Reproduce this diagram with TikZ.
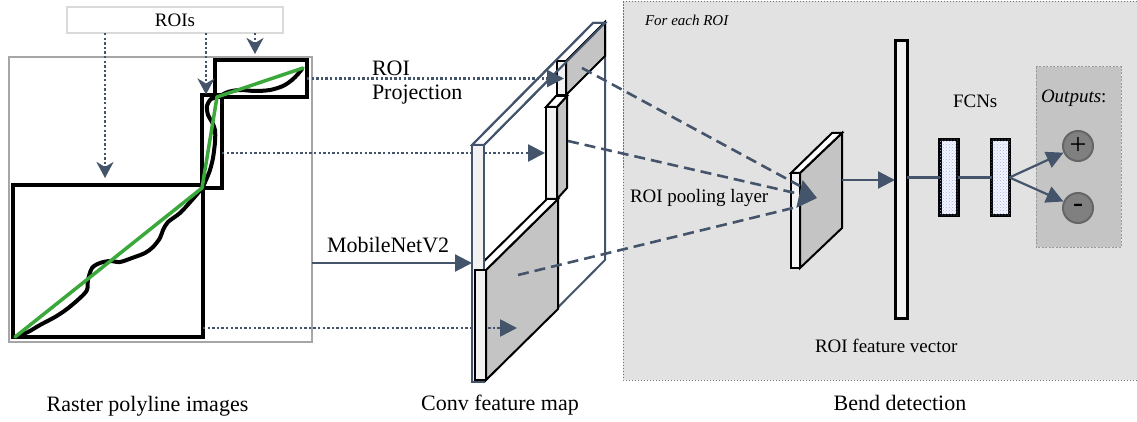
\documentclass[tikz,border=0pt]{standalone}
\usepackage{fontspec}
\setmainfont{Liberation Serif}
\usetikzlibrary{arrows.meta,patterns,calc}
\definecolor{slate}{HTML}{44546A}
\definecolor{lgreen}{RGB}{58,168,58}
\definecolor{facegray}{RGB}{196,196,196}
\definecolor{facewhite}{RGB}{242,242,242}
\definecolor{panelgray}{RGB}{226,226,226}
\definecolor{outgray}{RGB}{196,196,196}
\definecolor{circgray}{RGB}{128,128,128}
\definecolor{framegray}{RGB}{166,166,166}
\definecolor{roisgray}{RGB}{218,218,218}
\definecolor{fcnblue}{RGB}{160,180,225}
\begin{document}
\begin{tikzpicture}[x=1pt,y=-1pt]
\tikzset{
 box/.style={draw, rectangle, inner sep=0pt, outer sep=0pt},
 roi/.style={box, draw=black, line width=3.2pt},
 lbl/.style={inner sep=0pt, outer sep=0pt, font=\fontsize{22}{26}\selectfont},
 lblr/.style={inner sep=0pt, outer sep=0pt, font=\fontsize{19}{23}\selectfont},
 dotarrow/.style={draw=slate, line width=2.6pt, dash pattern=on 2.4pt off 2.2pt, -{Triangle[length=17pt,width=17pt]}},
 vdotarrow/.style={draw=slate, line width=2.6pt, dash pattern=on 2.4pt off 2.2pt, -{Stealth[length=16pt,width=17pt,inset=5pt]}},
 solidarrow/.style={draw=slate, line width=2.2pt, -{Triangle[length=17pt,width=17pt]}},
 link/.style={draw=slate, line width=2.2pt},
 dashline/.style={draw=slate, line width=2.6pt, dash pattern=on 11pt off 6pt},
 blk/.style={draw=black, line width=2pt, line join=miter},
 slb/.style={draw=slate, line width=2pt, line join=miter},
 fcn/.style={box, draw=black, line width=3.2pt, minimum width=18pt, minimum height=76pt, fill=blue!4, postaction={pattern=crosshatch dots, pattern color=fcnblue}},
 outc/.style={circle, draw=black!60, line width=2pt, fill=circgray, minimum size=30pt, inner sep=0pt, font=\fontsize{30}{30}\selectfont},
}
\useasboundingbox (0,0) rectangle (1137,422);

% ---------- right panel ----------
\draw[draw=black!55, line width=1pt, dash pattern=on 1.5pt off 1.5pt, fill=panelgray] (623,1.5) rectangle (1142,380);
\draw[draw=black!40, line width=1pt, dash pattern=on 2pt off 1.5pt, fill=outgray] (1036,67) rectangle (1121,247);
\node[lblr, anchor=base west, font=\fontsize{15}{18}\selectfont\itshape] (foreach) at (645,26) {For each ROI};

% ---------- left: raster images ----------
\node[box, draw=roisgray, line width=1.8pt, fill=white, minimum width=216pt, minimum height=26pt, font=\fontsize{19}{23}\selectfont] (rois) at (175,20) {ROIs};
\node[box, draw=framegray, line width=2pt, minimum width=303pt, minimum height=285pt] (img) at (160.5,199.5) {};
\node[roi, minimum width=190pt, minimum height=152pt] (roi1) at (108,261) {};
\node[roi, minimum width=20pt, minimum height=93pt] (roi2) at (212,141.5) {};
\node[roi, minimum width=92pt, minimum height=37pt] (roi3) at (261,78.5) {};
\draw[black, line width=4pt, line cap=round, line join=round] plot[smooth, tension=0.5] coordinates {(15,337) (28,332) (40,325) (55,317) (67,309) (80,298) (87,290) (88,280) (92,268) (100,263) (110,261) (120,262) (132,258) (145,253) (153,247) (160,238) (163,230) (168,222) (180,213) (192,200) (202,188) (206,180) (210,170) (213,158) (215,142) (215,130) (212,122) (208,115) (207,106) (211,99) (218,97) (228,92) (240,90) (255,91) (270,90) (283,86) (292,80) (298,74) (302,69)};
\draw[lgreen, line width=3.5pt, line cap=round, line join=round] (15,337) -- (202,188) -- (217,97) -- (303,68);

\coordinate (v1) at (105,178);
\coordinate (v2) at (206,94.5);
\coordinate (v3) at (255,54);
\draw[vdotarrow] (rois.south -| v1) -- (v1);
\draw[vdotarrow] (rois.south -| v2) -- (v2);
\draw[vdotarrow] (rois.south -| v3) -- (v3);

% ---------- conv feature map ----------
% outer slab
\draw[slb, fill=white] (472,145) -- (593,23) -- (605,23) -- (484,145) -- cycle;
\draw[slb] (605,23) -- (605,260) -- (484,382);
% top small slab
\draw[blk, fill=facegray] (566,61) -- (605,22) -- (605,56) -- (566,95) -- cycle;
\draw[blk, fill=facewhite] (557,61) rectangle (566,95);
\draw[slb] (472,145) -- (593,23) -- (605,23) -- (484,145);
% middle slab
\draw[blk, fill=facegray] (557,107) -- (567,96) -- (567,188) -- (557,199) -- cycle;
\draw[blk, fill=white] (546,107) -- (556,96) -- (567,96) -- (557,107) -- cycle;
\draw[blk, fill=facewhite] (546,107) rectangle (557,199);
% bottom slab
\draw[blk, fill=facegray] (486,270) -- (558,199) -- (558,309) -- (486,380) -- cycle;
\draw[blk, fill=white] (475,270) -- (547,199) -- (558,199) -- (486,270) -- cycle;

% ---------- ROI pooling slab ----------
\draw[blk, fill=facegray] (800,173) -- (842,133) -- (842,228) -- (800,268) -- cycle;
\draw[blk, fill=white] (791,173) -- (832,133) -- (842,133) -- (800,173) -- cycle;
\draw[blk, fill=facewhite] (791,173) rectangle (800,268);
\coordinate (poolout) at (842,180);

% dashed projections
\coordinate (d1s) at (582,68);
\coordinate (d2s) at (568,141);
\coordinate (d3s) at (518,275);
\coordinate (d1e) at (800,186);
\coordinate (d2e) at (817,198);
\coordinate (d3e) at (797,207);
\draw[dashline] (d1s) -- (d1e);
\draw[dashline] (d3s) -- (d3e);
\draw[dashline, -{Triangle[length=18pt,width=28pt]}] (d2s) -- (d2e);

% horizontal arrows to feature map
\coordinate (t3) at (564,78.5);
\coordinate (t2) at (545,153);
\coordinate (t1) at (517,328);
\coordinate (tm) at (472,263);
\draw[dotarrow] (roi3.east) -- (t3);
\draw[dotarrow] (roi2.east |- t2) -- (t2);
\draw[dotarrow] (roi1.east |- t1) -- (t1);
\draw[solidarrow] (img.east |- tm) -- (tm);

% front faces on top
\draw[slb, fill=facewhite] (472,145) rectangle (484,382);
\draw[blk, fill=facewhite] (475,270) rectangle (486,380);

% ---------- bend detection ----------
\node[box, draw=black, line width=3pt, fill=facewhite, minimum width=12pt, minimum height=277pt] (fv) at (901,179.5) {};
\draw[solidarrow] (poolout) -- (fv.west |- poolout);
\node[fcn] (fcn1) at (949,177.5) {};
\node[fcn] (fcn2) at (1000.5,177.5) {};
\draw[link] (fv.east |- fcn1) -- (fcn1.west);
\draw[link] (fcn1.east) -- (fcn2.west);
\node[outc] (plus) at (1078,146) {+};
\node[outc] (minus) at (1078,208) {-};
\draw[solidarrow] (fcn2.east) -- (plus);
\draw[solidarrow] (fcn2.east) -- (minus);

% ---------- labels ----------
\node[lbl, anchor=base west] (roiproj1) at (372,76) {ROI};
\node[lbl, anchor=base west] (roiproj2) at (372,100) {Projection};
\node[lbl, anchor=base west] (mobilenet) at (327,252) {MobileNetV2};
\node[lblr, anchor=base west] (poollbl) at (630,203) {ROI pooling layer};
\node[lblr, anchor=base west] (fcnlbl) at (953,108) {FCNs};
\node[lblr, anchor=base west] (outlbl) at (1041,103) {\textit{Outputs}:};
\node[lblr, anchor=base west] (fvlbl) at (815,352) {ROI feature vector};
\node[lbl, anchor=base] (cap1) at (147.5,411) {Raster polyline images};
\node[lbl, anchor=base] (cap2) at (500,410) {Conv feature map};
\node[lbl, anchor=base] (cap3) at (900,410) {Bend detection};
\end{tikzpicture}
\end{document}
